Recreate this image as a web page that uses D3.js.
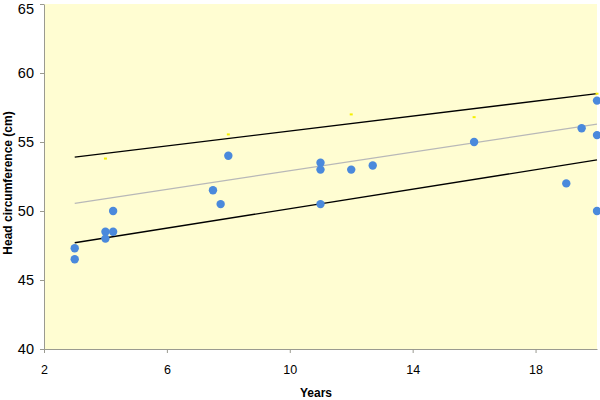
<!DOCTYPE html>
<html><head><meta charset="utf-8">
<script src="https://cdn.jsdelivr.net/npm/d3@7/dist/d3.min.js"></script>
<style>body{margin:0;background:#fff}svg{display:block}</style>
</head><body><svg id="c" width="600" height="400"></svg>
<script>
const years = [3, 3, 4, 4, 4.25, 4.25, 7.5, 7.75, 8, 11, 11, 11, 12, 12.7, 16, 19, 19.5, 20, 20, 20];
const headCirc = [47.3, 46.5, 48.5, 48, 48.5, 50, 51.5, 50.5, 54, 53.5, 53, 50.5, 53, 53.3, 55, 52, 56, 58, 55.5, 50];
const refYears = [4, 8, 12, 16, 20];
const refValues = [53.8, 55.55, 57.0, 56.8, 58.5];
const lineX = [3, 20];
const upperLine = [53.9, 58.5];
const meanLine = [50.55, 56.3];
const lowerLine = [47.7, 53.7];
const xTicks = [2, 6, 10, 14, 18];
const yTicks = [40, 45, 50, 55, 60, 65];

const svg = d3.select("#c");
const m = {l: 44, r: 3, t: 4, b: 51};
const W = 600, H = 400;
const x = d3.scaleLinear().domain([2, 20]).range([m.l, W - m.r]);
const y = d3.scaleLinear().domain([40, 65]).range([H - m.b, m.t]);
const font = "Liberation Sans, Arial, sans-serif";

svg.append("rect").attr("x", x(2)).attr("y", y(65)).attr("width", x(20) - x(2)).attr("height", y(40) - y(65)).attr("fill", "#FFFDD2");

const xa = svg.append("g").attr("transform", `translate(0,${y(40)})`).call(d3.axisBottom(x).tickValues(xTicks).tickSize(4).tickPadding(12).tickSizeOuter(0));
const ya = svg.append("g").attr("transform", `translate(${x(2)},0)`).call(d3.axisLeft(y).tickValues(yTicks).tickSize(4).tickPadding(6).tickSizeOuter(0));
[xa, ya].forEach(g => {
  g.selectAll("path,line").attr("stroke", "#9a9a90");
  g.selectAll("text").attr("font-family", font).attr("fill", "#000");
});
xa.selectAll("text").attr("font-size", 12.5);
ya.selectAll("text").attr("font-size", 14.5);
ya.selectAll(".tick").filter(d => d === 65).select("text").attr("y", 4.8);

function seg(vals, color, w) {
  svg.append("line").attr("x1", x(lineX[0])).attr("y1", y(vals[0])).attr("x2", x(lineX[1])).attr("y2", y(vals[1])).attr("stroke", color).attr("stroke-width", w);
}
seg(meanLine, "#b8b8b8", 1.2);
seg(upperLine, "#000", 1.3);
seg(lowerLine, "#000", 1.3);

svg.selectAll("rect.ref").data(refYears).enter().append("rect").attr("class", "ref")
  .attr("x", (d) => x(d) - 1.5).attr("y", (d, i) => y(refValues[i]) - 1).attr("width", 3).attr("height", 2).attr("fill", "#F5F000");

svg.selectAll("circle.pt").data(years).enter().append("circle").attr("class", "pt")
  .attr("cx", d => x(d)).attr("cy", (d, i) => y(headCirc[i])).attr("r", 4.2).attr("fill", "#4A89DC");

svg.append("text").attr("x", 316).attr("y", 397).attr("text-anchor", "middle")
  .attr("font-family", font).attr("font-size", 12).attr("font-weight", "bold").text("Years");
svg.append("text").attr("transform", "translate(12,183) rotate(-90)").attr("text-anchor", "middle")
  .attr("font-family", font).attr("font-size", 12).attr("font-weight", "bold").text("Head circumference (cm)");
</script></body></html>
